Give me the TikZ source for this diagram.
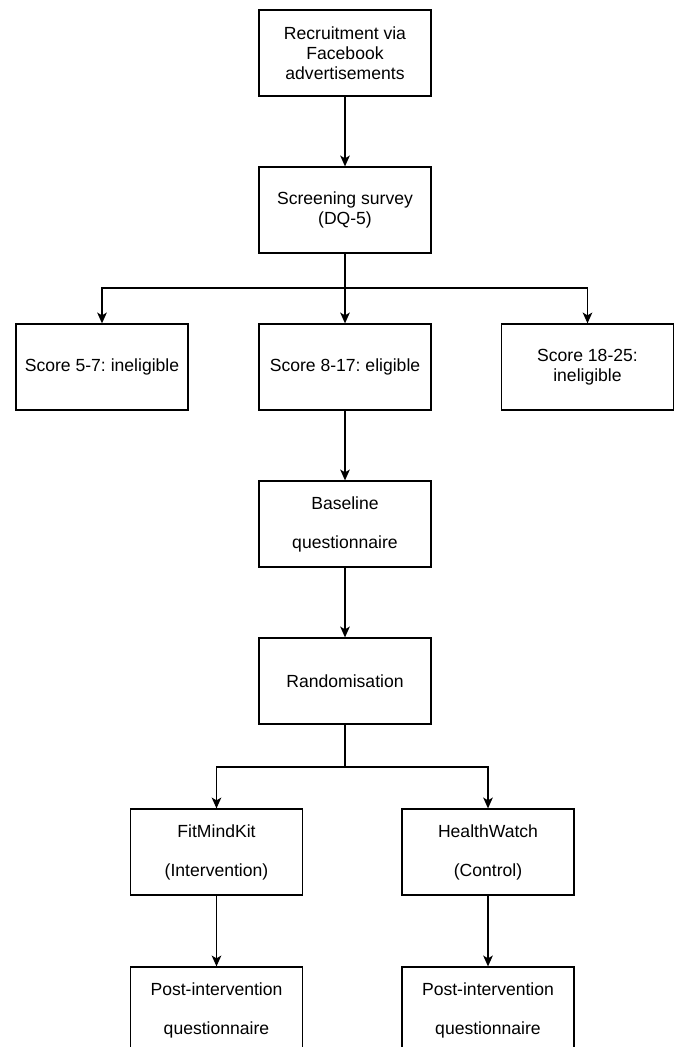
\documentclass[tikz,border=0pt]{standalone}
\usepackage{fontspec}
\setmainfont{Liberation Sans}
\frenchspacing
\usetikzlibrary{arrows.meta}

\begin{document}
\begin{tikzpicture}[
		stage/.style={draw, line width=0.9pt, minimum width=4.3cm, minimum height=2.15cm,
			inner sep=0pt, align=center, font=\fontsize{12.5}{14.2}\selectfont},
		loose/.style={stage, font=\fontsize{12.5}{27.7}\selectfont},
		flow/.style={line width=0.9pt, -{Stealth[length=2.7mm, width=2.4mm, inset=0.7mm]}},
		link/.style={line width=0.9pt}
	]
		\useasboundingbox (0,0) rectangle (16.95,-26.175);				% Margens
		
		% Etapas
		\node[stage] (rec)    at (8.625,-1.325)   {Recruitment via\\Facebook\\advertisements};
		\node[stage] (screen) at (8.625,-5.25)    {Screening survey\\(DQ-5)};
		\node[stage] (low)    at (2.55,-9.175)    {Score 5-7: ineligible};
		\node[stage] (elig)   at (8.625,-9.175)   {Score 8-17: eligible};
		\node[stage] (high)   at (14.6875,-9.175) {Score 18-25:\\ineligible};
		\node[loose] (base)   at (8.625,-13.1)    {Baseline\\questionnaire};
		\node[stage] (rand)   at (8.625,-17.025)  {Randomisation};
		\node[loose] (fit)    at (5.4125,-21.3)   {FitMindKit\\(Intervention)};
		\node[loose] (watch)  at (12.2,-21.3)     {HealthWatch\\(Control)};
		\node[loose] (postA)  at (5.4125,-25.25)  {Post-intervention\\questionnaire};
		\node[loose] (postB)  at (12.2,-25.25)    {Post-intervention\\questionnaire};
		
		% Pontos de bifurcação
		\coordinate (fork1) at (8.625,-7.2);
		\coordinate (fork2) at (8.625,-19.175);
		
		% Setas
		\draw[flow] (rec) -- (screen);
		\draw[flow] (screen) -- (elig);
		\draw[flow] (fork1) -| (low.north);
		\draw[flow] (fork1) -| (high.north);
		\draw[flow] (elig) -- (base);
		\draw[flow] (base) -- (rand);
		\draw[link] (rand) -- (fork2);
		\draw[flow] (fork2) -| (fit.north);
		\draw[flow] (fork2) -| (watch.north);
		\draw[flow] (fit) -- (postA);
		\draw[flow] (watch) -- (postB);
	\end{tikzpicture}
\end{document}
